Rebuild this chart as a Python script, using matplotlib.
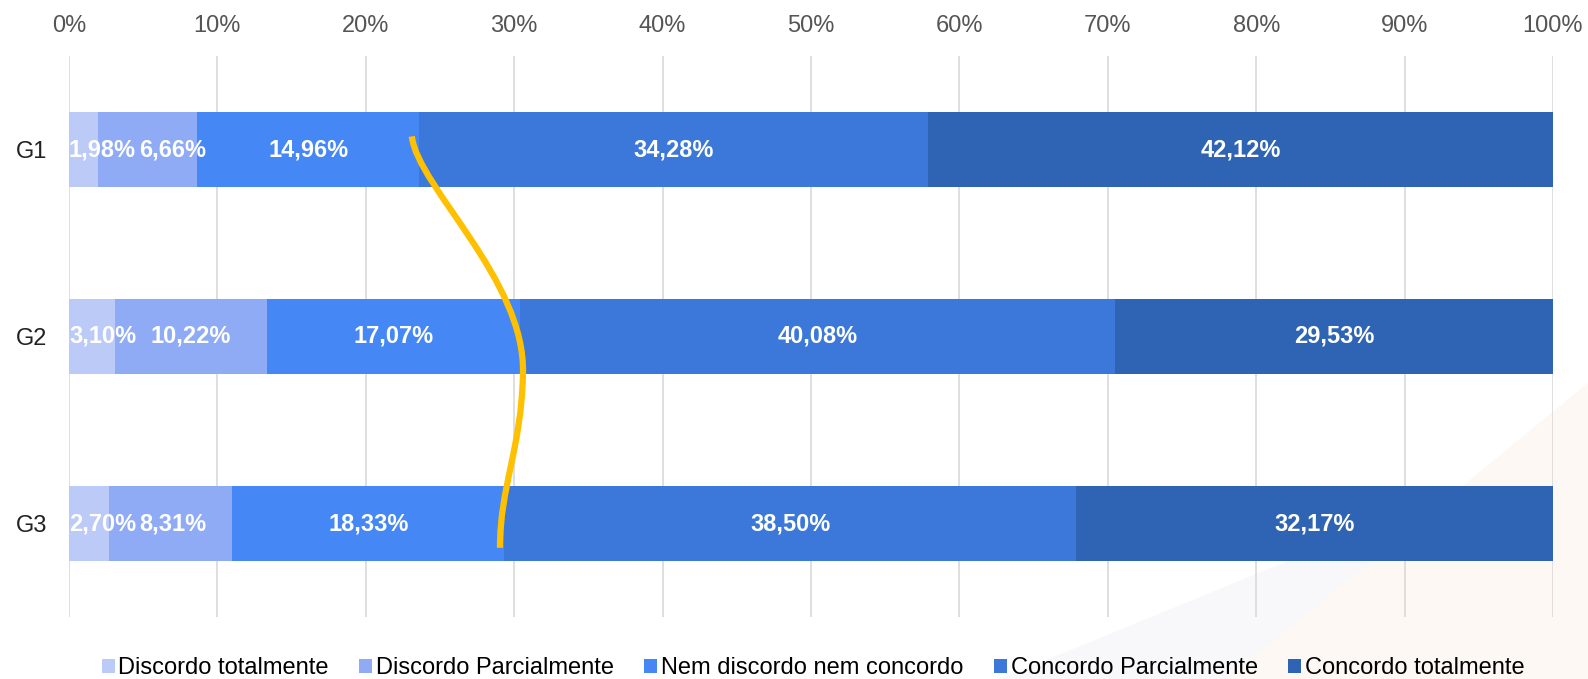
import matplotlib
matplotlib.use("Agg")
import matplotlib.pyplot as plt
import numpy as np
from matplotlib.path import Path
from matplotlib.patches import PathPatch, Polygon, Patch

plt.rcParams['font.family'] = ['Liberation Sans', 'DejaVu Sans']

# dados (%)
grupos = ['G1', 'G2', 'G3']
categorias = ['Discordo totalmente', 'Discordo Parcialmente', 'Nem discordo nem concordo',
              'Concordo Parcialmente', 'Concordo totalmente']
disc_total = [1.98, 3.10, 2.70]
disc_parc = [6.66, 10.22, 8.31]
nem = [14.96, 17.07, 18.33]
conc_parc = [34.28, 40.08, 38.50]
conc_total = [42.12, 29.53, 32.17]
cores = ['#BCCAF8', '#8FABF5', '#4487F5', '#3B78D9', '#2F64B5']

series = [disc_total, disc_parc, nem, conc_parc, conc_total]

fig = plt.figure(figsize=(15.88, 6.79), dpi=100)
ax = fig.add_axes([69 / 1588, 1 - 617 / 679, (1553 - 69) / 1588, (617 - 56) / 679])
ax.patch.set_alpha(0)
ax.set_zorder(2)

# fundo decorativo (canto inferior direito)
fig.patches.append(Polygon([(1000 / 1588, 0), (1, 0.355), (1, 0)], closed=True,
                           transform=fig.transFigure, facecolor='#F8F7FA', edgecolor='none', zorder=-2))
fig.patches.append(Polygon([(1227 / 1588, 0), (1, 0.436), (1, 0)], closed=True,
                           transform=fig.transFigure, facecolor='#FEF8F4', edgecolor='none', zorder=-1))

y = np.arange(len(grupos))
left = np.zeros(len(grupos))
textos = [[] for _ in grupos]
for vals, cor, nome in zip(series, cores, categorias):
    vals = np.array(vals)
    ax.barh(y, vals, left=left, height=0.4, color=cor, label=nome, zorder=2)
    for i in range(len(grupos)):
        t = ax.text(left[i] + vals[i] / 2, y[i], f'{vals[i]:.2f}%'.replace('.', ','),
                    ha='center', va='center', color='white', fontsize=17, fontweight='bold', zorder=4)
        textos[i].append(t)
    left += vals

ax.set_xlim(0, 100)
ax.set_ylim(-0.5, 2.5)
ax.invert_yaxis()
ax.set_xticks(np.arange(0, 101, 10))
ax.set_xticklabels([f'{v}%' for v in range(0, 101, 10)])
ax.xaxis.tick_top()
ax.tick_params(axis='x', length=0, pad=14, labelsize=17, labelcolor='#555555')
ax.set_yticks(y)
ax.set_yticklabels(grupos)
ax.tick_params(axis='y', length=0, pad=16, labelsize=17, labelcolor='#222222')
ax.grid(axis='x', color='#D9D9D9', linewidth=1.2, zorder=0)
ax.set_axisbelow(True)
for s in ax.spines.values():
    s.set_visible(False)

# evita sobreposicao dos rotulos pequenos
fig.canvas.draw()
r = fig.canvas.get_renderer()
inv = ax.transData.inverted()
gap = 0.2
for linha in textos:
    prev_right = 0.0 - gap
    for t in linha:
        bb = t.get_window_extent(r)
        x0, _ = inv.transform((bb.x0, 0))
        x1, _ = inv.transform((bb.x1, 0))
        w = x1 - x0
        cx = t.get_position()[0]
        cx = max(cx, prev_right + gap + w / 2)
        t.set_x(cx)
        prev_right = cx + w / 2

# curva amarela ligando as fronteiras "Nem discordo" / "Concordo Parcialmente"
cum = np.array(disc_total) + np.array(disc_parc) + np.array(nem)
verts = [(cum[0] - 0.5, -0.07),
         (cum[0] - 0.1, 0.2), (cum[1] + 0.4, 0.7), (cum[1] + 0.2, 1.2),
         (cum[1] + 0.1, 1.6), (cum[2] - 0.3, 1.8), (cum[2] - 0.3, 2.13)]
codes = [Path.MOVETO, Path.CURVE4, Path.CURVE4, Path.CURVE4, Path.CURVE4, Path.CURVE4, Path.CURVE4]
ax.add_patch(PathPatch(Path(verts, codes), facecolor='none', edgecolor='#FFC000',
                       linewidth=4.5, capstyle='butt', zorder=5))

handles = [Patch(facecolor=c, edgecolor='none') for c in cores]
fig.legend(handles, categorias, loc='center', bbox_to_anchor=(0.512, 0.016), ncol=5,
           frameon=False, fontsize=17, handlelength=0.55, handleheight=0.55,
           handletextpad=0.15, columnspacing=1.3)

fig.savefig('out.png', dpi=100)
